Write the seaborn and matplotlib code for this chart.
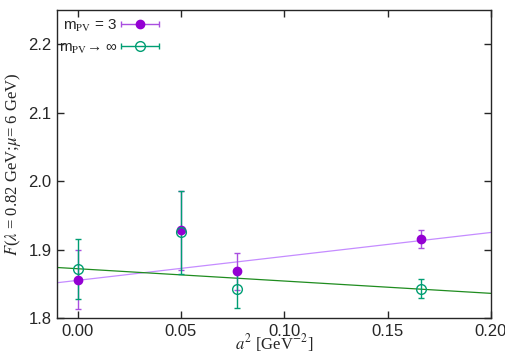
import matplotlib
matplotlib.use('Agg')
import matplotlib.pyplot as plt
from matplotlib.container import ErrorbarContainer
from matplotlib.legend_handler import HandlerErrorbar
import seaborn as sns
import numpy as np
import pandas as pd

a2 = [0.0, 0.05, 0.0773, 0.166]
f_pv3 = [1.856, 1.928, 1.868, 1.915]
err_pv3 = [0.043, 0.058, 0.027, 0.013]
f_inf = [1.872, 1.925, 1.843, 1.843]
err_inf = [0.044, 0.060, 0.028, 0.014]
fit_pv3 = (1.855, 0.35)   # intercept, slope
fit_inf = (1.872, -0.18)

sns.set_style('ticks')
plt.rcParams['font.family'] = ['Liberation Sans', 'DejaVu Sans']
plt.rcParams['mathtext.fontset'] = 'stix'

fig = plt.figure(figsize=(5.06, 3.54), dpi=100)
ax = fig.add_axes([0.1126, 0.1017, 0.8578, 0.870])

xs = np.linspace(-0.01, 0.20, 50)
lines = pd.DataFrame({
    'x': np.concatenate([xs, xs]),
    'y': np.concatenate([fit_pv3[0] + fit_pv3[1] * xs, fit_inf[0] + fit_inf[1] * xs]),
    'fit': ['pv3'] * len(xs) + ['inf'] * len(xs),
})
sns.lineplot(data=lines, x='x', y='y', hue='fit',
             palette={'pv3': '#c58cff', 'inf': '#1f8c1f'},
             linewidth=0.9, legend=False, ax=ax)

style_pv3 = dict(fmt='o', color='#9400d3', ecolor='#a94fe0', ms=6,
                 capsize=2.5, elinewidth=1, capthick=1)
style_inf = dict(fmt='o', color='#009e73', mfc='none', ms=7, mew=1,
                 capsize=2.5, elinewidth=1, capthick=1)
ax.errorbar(a2, f_pv3, yerr=err_pv3, **style_pv3)
ax.errorbar(a2, f_inf, yerr=err_inf, **style_inf)

# gnuplot-style key samples: horizontal bars
h1 = ax.errorbar([np.nan], [np.nan], xerr=[1], **style_pv3)
h2 = ax.errorbar([np.nan], [np.nan], xerr=[1], **style_inf)

ax.set_xlim(-0.01, 0.20)
ax.set_ylim(1.8, 2.25)
ax.set_xticks([0.0, 0.05, 0.10, 0.15, 0.20])
ax.set_xticklabels(['0.00', '0.05', '0.10', '0.15', '0.20'])
ax.set_yticks([1.8, 1.9, 2.0, 2.1, 2.2])
ax.tick_params(direction='in', top=True, right=True, labelsize=12, length=5, width=1, pad=4)
for s in ax.spines.values():
    s.set_linewidth(1)

ax.set_xlabel(r'$a^2$ [GeV$^{-2}$]', fontsize=12, family='Liberation Serif', labelpad=-5)
ax.set_ylabel(r'$F$($\lambda$ = 0.82 GeV;$\mu$= 6 GeV)', fontsize=12,
              family='Liberation Serif', labelpad=4)

ax.legend([h1, h2], [r'm$_{\rm PV}$ = 3', r'm$_{\rm PV}$→ ∞'],
          handler_map={ErrorbarContainer: HandlerErrorbar(xerr_size=1.25)},
          loc='upper left', bbox_to_anchor=(0.0, 0.98), frameon=False,
          markerfirst=False, fontsize=11,
          handlelength=2.6, borderaxespad=0.0, labelspacing=0.45,
          handletextpad=0.2, borderpad=0.1)

fig.savefig('out.png', dpi=100)
